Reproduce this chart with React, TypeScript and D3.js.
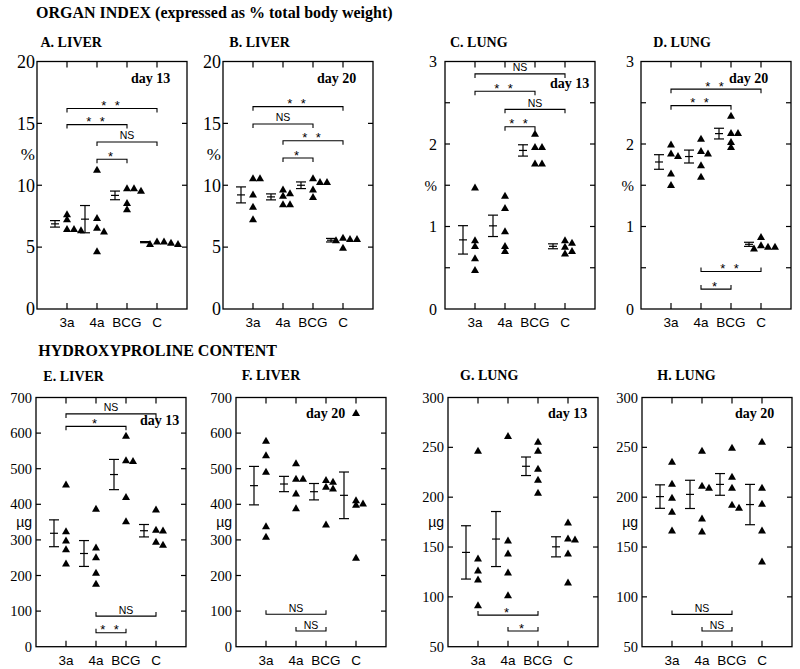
import React from "react";
import * as d3 from "d3";

const categories = ["3a", "4a", "BCG", "C"];

// Organ index (% of total body weight)
const liverIndexDay13 = [
  [7.7, 7.3, 6.5, 6.5, 6.4],
  [11.3, 7.4, 6.6, 6.3, 4.7],
  [9.8, 9.8, 9.6, 8.6, 8.1],
  [5.5, 5.5, 5.4, 5.3, 5.3],
];
const liverIndexDay20 = [
  [10.6, 10.6, 9.3, 8.3, 7.3],
  [9.7, 9.4, 9.2, 8.5, 8.5],
  [10.6, 10.3, 10.3, 9.7, 9.1],
  [5.8, 5.7, 5.7, 5.6, 5.0],
];
const lungIndexDay13 = [
  [1.48, 0.84, 0.77, 0.62, 0.48],
  [1.38, 1.23, 0.95, 0.77, 0.71],
  [2.13, 1.97, 1.97, 1.77, 1.77],
  [0.84, 0.81, 0.76, 0.71, 0.68],
];
const lungIndexDay20 = [
  [2.0, 1.89, 1.86, 1.65, 1.51],
  [2.07, 1.92, 1.89, 1.75, 1.61],
  [2.35, 2.14, 2.14, 2.03, 1.97],
  [0.88, 0.78, 0.76, 0.76, 0.74],
];

// Hydroxyproline content (µg)
const liverHypDay13 = [
  [457, 326, 300, 275, 235],
  [389, 280, 253, 209, 178],
  [594, 525, 523, 422, 354],
  [387, 330, 328, 296, 288],
];
const liverHypDay20 = [
  [580, 539, 493, 340, 310],
  [517, 473, 473, 432, 390],
  [470, 465, 451, 446, 345],
  [658, 413, 404, 400, 251],
];
const lungHypDay13 = [
  [247, 139, 127, 118, 92],
  [262, 157, 144, 125, 102],
  [256, 247, 229, 218, 205],
  [175, 159, 158, 144, 115],
];
const lungHypDay20 = [
  [236, 214, 200, 186, 167],
  [247, 212, 210, 179, 166],
  [250, 221, 210, 193, 190],
  [256, 210, 194, 167, 136],
];

// Significance comparisons: [group a, group b, bracket level, label]
type Test = [string, string, number, string];
const testsA: Test[] = [["3a", "C", 16.2, "**"], ["3a", "BCG", 14.9, "**"], ["4a", "C", 13.5, "NS"], ["4a", "BCG", 12.1, "*"]];
const testsB: Test[] = [["3a", "C", 16.35, "**"], ["3a", "BCG", 14.95, "NS"], ["4a", "C", 13.6, "**"], ["4a", "BCG", 12.2, "*"]];
const testsC: Test[] = [["3a", "C", 2.85, "NS"], ["3a", "BCG", 2.64, "**"], ["4a", "C", 2.42, "NS"], ["4a", "BCG", 2.21, "**"]];
const testsD: Test[] = [["3a", "C", 2.665, "**"], ["3a", "BCG", 2.465, "**"], ["4a", "C", 0.454, "**"], ["4a", "BCG", 0.241, "*"]];
const testsE: Test[] = [["3a", "C", 654, "NS"], ["3a", "BCG", 619, "*"], ["4a", "C", 86, "NS"], ["4a", "BCG", 39, "**"]];
const testsF: Test[] = [["3a", "BCG", 91, "NS"], ["4a", "BCG", 44, "NS"]];
const testsG: Test[] = [["3a", "BCG", 81.7, "*"], ["4a", "BCG", 65.7, "*"]];
const testsH: Test[] = [["3a", "BCG", 82.4, "NS"], ["4a", "BCG", 65.7, "NS"]];

const pctLabels = [0, 5, 10, 15, 20];
const pctTicks = [5, 10, 15];
const lungPctLabels = [0, 1, 2, 3];
const lungPctTicks = [0.5, 1, 1.5, 2, 2.5];
const liverUgLabels = [0, 100, 200, 300, 400, 500, 600, 700];
const liverUgTicks = [100, 200, 300, 400, 500, 600];
const lungUgLabels = [50, 100, 150, 200, 250, 300];
const lungUgTicks = [100, 150, 200, 250];

const SERIF = "'Liberation Serif', 'Times New Roman', Times, serif";
const SANS = "'Liberation Sans', Arial, Helvetica, sans-serif";

interface PanelSpec {
  title: string;
  day: string;
  values: number[][];
  tests: Test[];
  domain: [number, number];
  labels: number[];
  ticks: number[];
  unit: string;
  unitAt: number;
  left: number;
  top: number;
  bottom: number;
  labelSize: number;
  labelGap: number;
  titleX: number;
  titleY: number;
  dayX: number;
  dayY: number;
}

const TOP = { top: 61.5, bottom: 309 };
const BOT = { top: 397.5, bottom: 646.7 };

const panels: PanelSpec[] = [
  { title: "A. LIVER", day: "day 13", values: liverIndexDay13, tests: testsA, domain: [0, 20], labels: pctLabels, ticks: pctTicks, unit: "%", unitAt: 12.5, left: 37, ...TOP, labelSize: 18, labelGap: 2, titleX: 40.5, titleY: 46.7, dayX: 131, dayY: 83 },
  { title: "B. LIVER", day: "day 20", values: liverIndexDay20, tests: testsB, domain: [0, 20], labels: pctLabels, ticks: pctTicks, unit: "%", unitAt: 12.5, left: 223, ...TOP, labelSize: 18, labelGap: 2, titleX: 229.3, titleY: 46.7, dayX: 317, dayY: 83 },
  { title: "C. LUNG", day: "day 13", values: lungIndexDay13, tests: testsC, domain: [0, 3], labels: lungPctLabels, ticks: lungPctTicks, unit: "%", unitAt: 1.5, left: 445, ...TOP, labelSize: 16, labelGap: 8, titleX: 450, titleY: 46.7, dayX: 550, dayY: 88 },
  { title: "D. LUNG", day: "day 20", values: lungIndexDay20, tests: testsD, domain: [0, 3], labels: lungPctLabels, ticks: lungPctTicks, unit: "%", unitAt: 1.5, left: 641, ...TOP, labelSize: 16, labelGap: 7, titleX: 653.3, titleY: 46.7, dayX: 729, dayY: 83 },
  { title: "E. LIVER", day: "day 13", values: liverHypDay13, tests: testsE, domain: [0, 700], labels: liverUgLabels, ticks: liverUgTicks, unit: "µg", unitAt: 350, left: 36, ...BOT, labelSize: 14.5, labelGap: 4, titleX: 43.3, titleY: 380.5, dayX: 140, dayY: 425 },
  { title: "F. LIVER", day: "day 20", values: liverHypDay20, tests: testsF, domain: [0, 700], labels: liverUgLabels, ticks: liverUgTicks, unit: "µg", unitAt: 350, left: 236, ...BOT, labelSize: 14.5, labelGap: 4, titleX: 241.7, titleY: 380, dayX: 306, dayY: 418.3 },
  { title: "G. LUNG", day: "day 13", values: lungHypDay13, tests: testsG, domain: [50, 300], labels: lungUgLabels, ticks: lungUgTicks, unit: "µg", unitAt: 175, left: 448, ...BOT, labelSize: 14.5, labelGap: 4, titleX: 460, titleY: 380, dayX: 548, dayY: 418.3 },
  { title: "H. LUNG", day: "day 20", values: lungHypDay20, tests: testsH, domain: [50, 300], labels: lungUgLabels, ticks: lungUgTicks, unit: "µg", unitAt: 175, left: 642, ...BOT, labelSize: 14.5, labelGap: 4, titleX: 657.3, titleY: 380, dayX: 735, dayY: 418.3 },
];

const PLOT_W = 150;
const TRI_W = 8;
const TRI_H = 7;
const STEP = 7;
const MIN_DY = 4.5;
const TICK = 5;

function dodge(vals: number[], y: (v: number) => number) {
  const placed: { k: number; py: number }[] = [];
  return vals.map((v) => {
    const py = y(v);
    for (const k of [0, 1, 2, -1, 3, -2]) {
      if (!placed.some((p) => p.k === k && Math.abs(p.py - py) < MIN_DY)) {
        placed.push({ k, py });
        return { v, py, k };
      }
    }
    return { v, py, k: 0 };
  });
}

function Panel({ p }: { p: PanelSpec }) {
  const right = p.left + PLOT_W;
  const x = d3.scalePoint<string>().domain(categories).range([p.left + 30, p.left + 120]);
  const y = d3.scaleLinear().domain(p.domain).range([p.bottom, p.top]);
  const mid = (p.domain[0] + p.domain[1]) / 2;
  const tri = d3.symbol().type(d3.symbolTriangle);

  return (
    <g>
      <text x={p.titleX} y={p.titleY} fontFamily={SERIF} fontWeight="bold" fontSize={14}>{p.title}</text>
      <rect x={p.left} y={p.top} width={PLOT_W} height={p.bottom - p.top} fill="none" stroke="#000" strokeWidth={1.3} />
      {/* y ticks */}
      {p.ticks.map((t) => (
        <g key={"t" + t}>
          <line x1={p.left} x2={p.left + TICK} y1={y(t)} y2={y(t)} stroke="#000" strokeWidth={1.2} />
          <line x1={right} x2={right - TICK} y1={y(t)} y2={y(t)} stroke="#000" strokeWidth={1.2} />
        </g>
      ))}
      {p.labels.map((t) => (
        <text key={"l" + t} x={p.left - p.labelGap} y={y(t)} dy="0.35em" textAnchor="end" fontFamily={SERIF} fontSize={p.labelSize}>{t}</text>
      ))}
      <text x={p.left - p.labelGap} y={y(p.unitAt)} dy="0.35em" textAnchor="end" fontFamily={p.unit === "%" ? SERIF : SANS} fontSize={p.unit === "%" ? p.labelSize - 1 : 14}>{p.unit}</text>
      {/* category ticks & labels */}
      {categories.map((c) => (
        <g key={"c" + c}>
          <line x1={x(c)} x2={x(c)} y1={p.top} y2={p.top + TICK + 1} stroke="#000" strokeWidth={1.2} />
          <line x1={x(c)} x2={x(c)} y1={p.bottom} y2={p.bottom - TICK - 1} stroke="#000" strokeWidth={1.2} />
          <text x={x(c)} y={p.bottom + 18} textAnchor="middle" fontFamily={SANS} fontSize={13.5}>{c}</text>
        </g>
      ))}
      <text x={p.dayX} y={p.dayY} fontFamily={SERIF} fontWeight="bold" fontSize={14}>{p.day}</text>
      {/* data */}
      {p.values.map((vals, i) => {
        const cx = x(categories[i])!;
        const m = d3.mean(vals)!;
        const sem = d3.deviation(vals)! / Math.sqrt(vals.length);
        const ex = cx - 12;
        const pts = dodge(vals, y);
        return (
          <g key={"g" + i}>
            <line x1={ex} x2={ex} y1={y(m - sem)} y2={y(m + sem)} stroke="#000" strokeWidth={1.2} />
            <line x1={ex - 5} x2={ex + 5} y1={y(m + sem)} y2={y(m + sem)} stroke="#000" strokeWidth={1.2} />
            <line x1={ex - 5} x2={ex + 5} y1={y(m - sem)} y2={y(m - sem)} stroke="#000" strokeWidth={1.2} />
            <line x1={ex - 4} x2={ex + 4} y1={y(m)} y2={y(m)} stroke="#000" strokeWidth={1.2} />
            {pts.map((pt, j) => (
              <path key={j} d={`M${cx + pt.k * STEP},${pt.py - TRI_H / 2}L${cx + pt.k * STEP + TRI_W / 2},${pt.py + TRI_H / 2}L${cx + pt.k * STEP - TRI_W / 2},${pt.py + TRI_H / 2}Z`} fill="#000" />
            ))}
          </g>
        );
      })}
      {/* significance brackets */}
      {p.tests.map(([a, b, lvl, lab], i) => {
        const x1 = x(a)!;
        const x2 = x(b)!;
        const ly = y(lvl);
        const dir = lvl > mid ? 1 : -1;
        const isStar = lab.includes("*");
        return (
          <g key={"b" + i}>
            <path d={`M${x1},${ly + dir * 4}V${ly}H${x2}V${ly + dir * 4}`} fill="none" stroke="#000" strokeWidth={1.1} />
            <text x={(x1 + x2) / 2} y={isStar ? ly + 1.5 : ly - 2.5} textAnchor="middle" fontFamily={SANS} fontSize={isStar ? 13 : 10.5} letterSpacing={isStar ? 3 : 0}>{isStar ? lab.split("").join(" ").replace(/ /g, "\u2009") : lab}</text>
          </g>
        );
      })}
    </g>
  );
}

export default function App() {
  return (
    <svg width={800} height={669} viewBox="0 0 800 669" style={{ position: "absolute", left: 0, top: 0, background: "#fff" }}>
      <rect width={800} height={669} fill="#fff" />
      <text x={36} y={18.3} fontFamily={SERIF} fontWeight="bold" fontSize={16}>ORGAN INDEX (expressed as % total body weight)</text>
      <text x={38.3} y={355.7} fontFamily={SERIF} fontWeight="bold" fontSize={16}>HYDROXYPROLINE CONTENT</text>
      {panels.map((p) => (
        <Panel key={p.title} p={p} />
      ))}
    </svg>
  );
}
